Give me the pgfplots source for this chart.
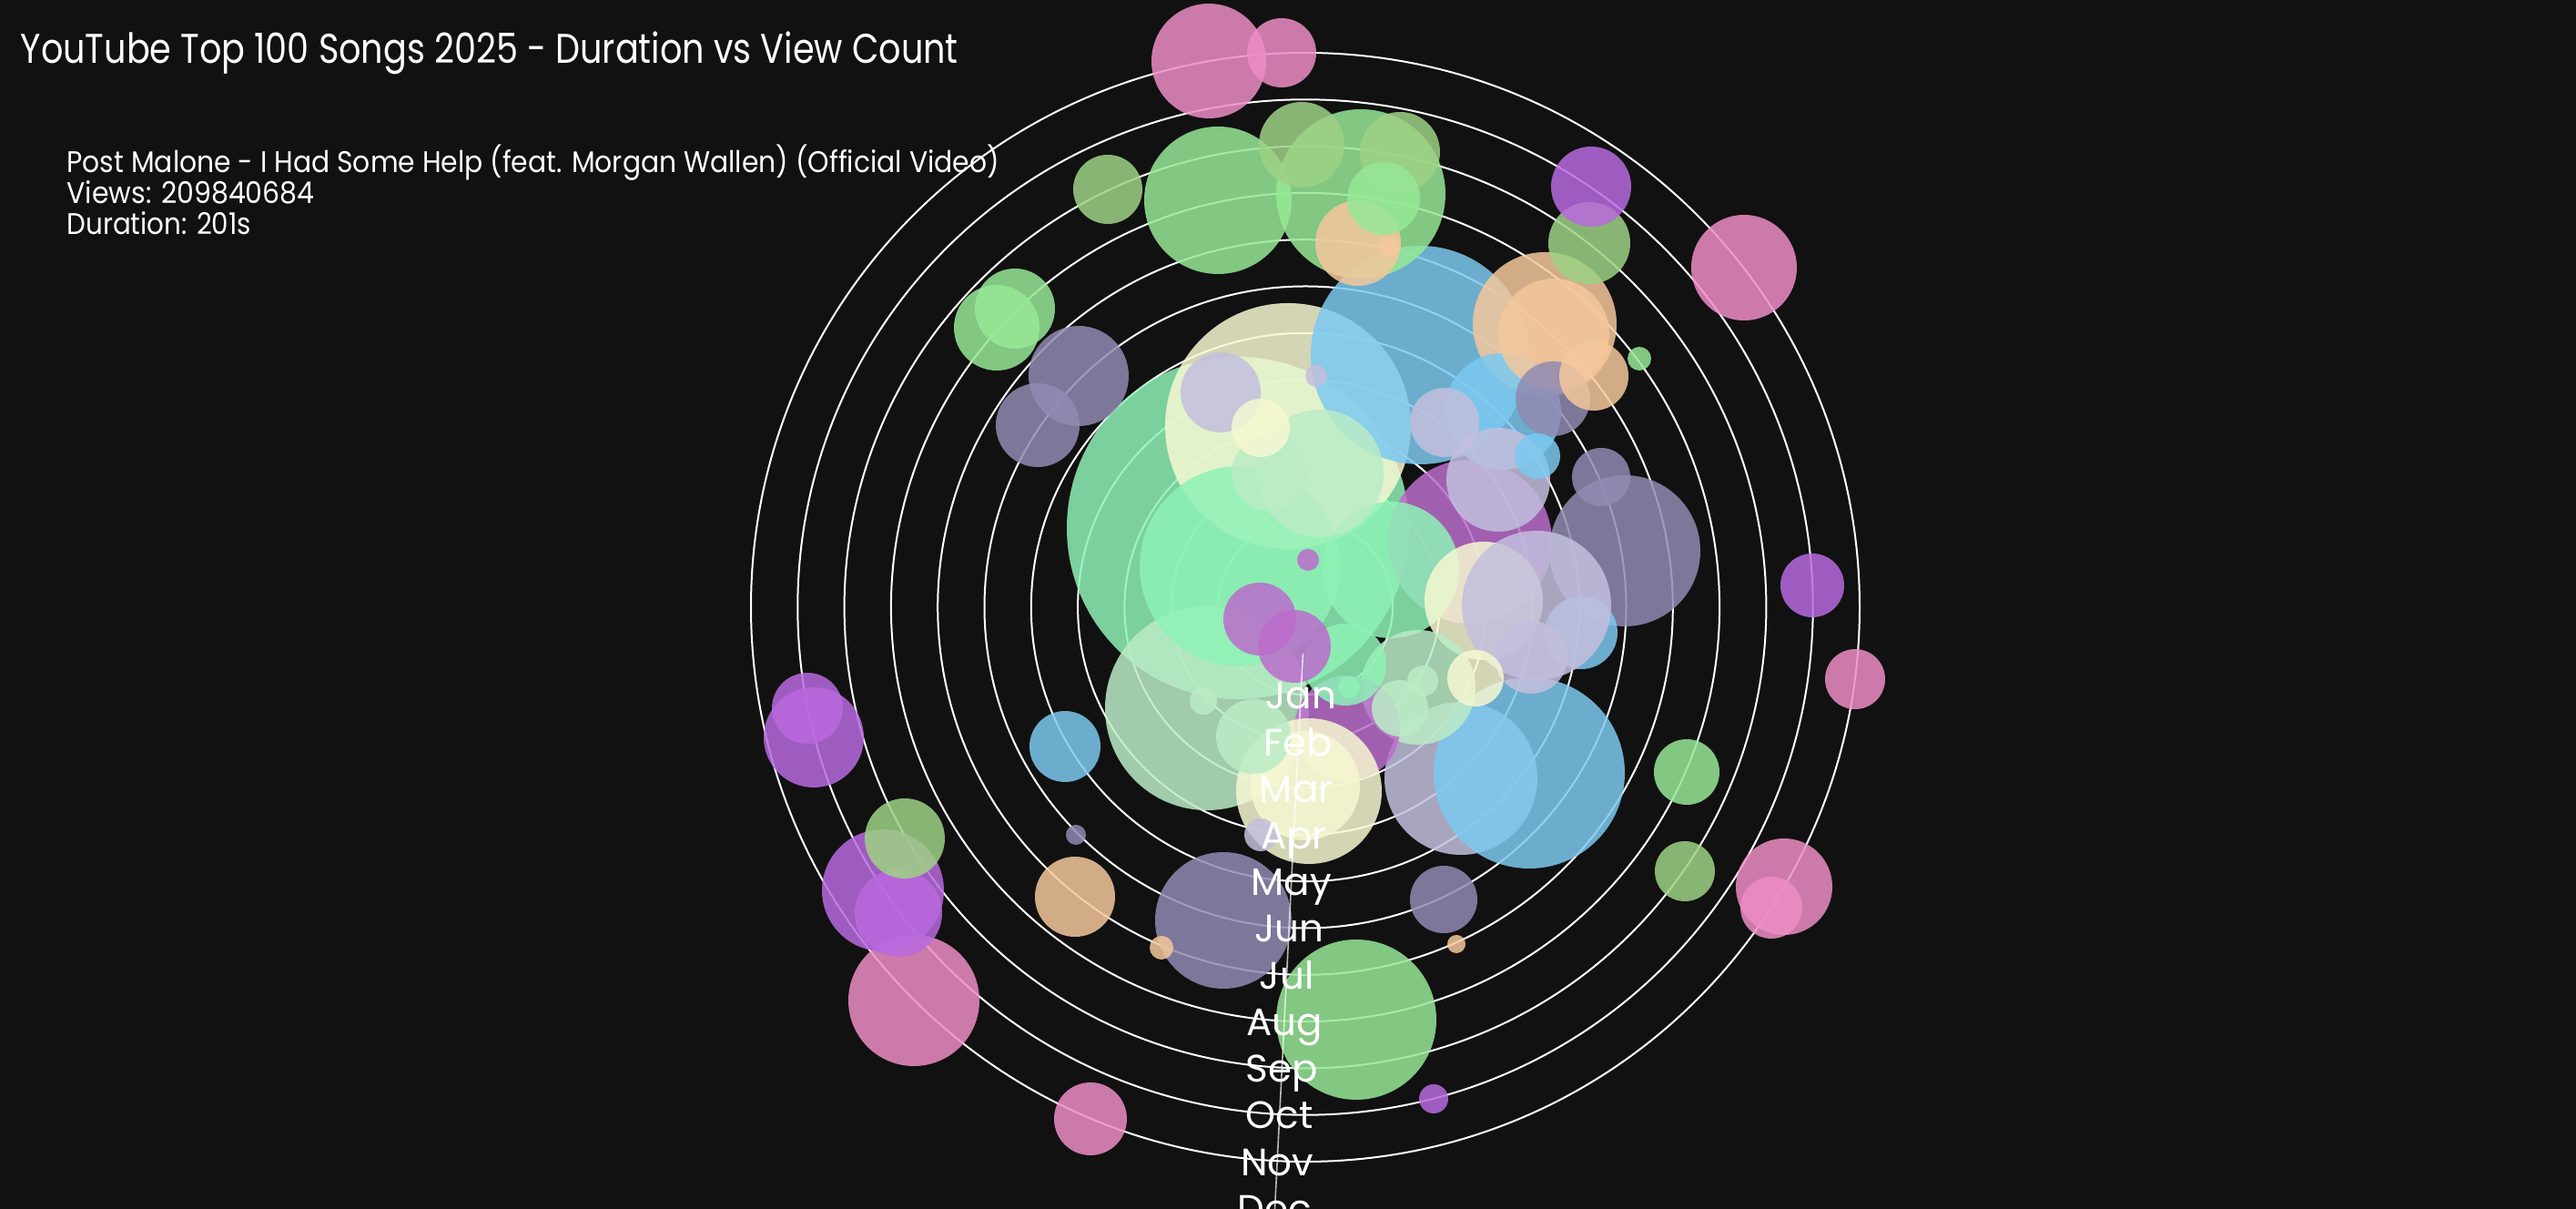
\documentclass[border=0pt]{standalone}
\usepackage{graphicx}
\usepackage{pgfplots}
\pgfplotsset{compat=1.18}
\usepackage{pgfplotstable}
\usepackage{fontspec}
\setmainfont{Poppins}
\definecolor{bg}{RGB}{17,17,17}

% bubbles: x,y = offset of the bubble centre from the polar centre (px of the 2830x1328 picture),
% r = bubble radius (px), c = colour index
\pgfplotstableread{
x y r c
-74 87 188 3
-19 199 135 5
126 277 120 6
-108 -111 112 4
-72 45 110 3
171 -188 84 7
246 -182 105 6
61 454 93 1
181 72 90 10
56 -453 88 1
351 62 83 8
-96 447 81 1
263 311 79 11
-90 -344 75 8
94 41 75 3
-430 -432 72 0
16 147 70 4
-464 -311 67 9
196 7 65 5
217 215 64 6
-106 600 63 0
124 -88 63 4
273 300 61 11
482 373 58 0
46 -133 58 10
4 -202 80 5
0 -196 60 5
212 140 57 7
-249 254 55 8
-540 -143 55 9
526 -307 53 0
-447 -336 48 9
-4 508 47 2
58 400 47 11
-339 307 47 1
-294 200 46 8
312 400 45 2
44 -63 45 3
104 500 44 2
314 462 44 9
-319 328 44 1
-93 236 44 7
-440 -254 44 2
-253 -318 44 11
272 229 41 8
-57 -142 41 4
-40 147 41 4
86 449 40 1
-236 -562 40 0
303 -28 40 6
254 2 82 7
248 -55 40 7
-50 -13 40 10
-12 -43 40 10
-547 -111 39 9
-264 -153 39 6
-26 609 38 0
-217 459 38 2
317 254 38 11
153 203 38 7
152 -321 37 8
419 -181 36 1
557 24 35 9
512 -330 34 0
417 -290 33 2
604 -79 33 0
325 143 32 8
-49 197 32 5
187 -78 31 5
104 -111 31 4
255 166 25 6
-49 -250 18 7
129 -81 17 4
141 -540 16 9
-112 -103 15 4
367 273 13 1
-158 -374 13 11
91 396 12 11
12 254 12 7
48 -88 12 3
3 52 12 10
-252 -250 11 8
166 -370 10 11
}\bubbles

\begin{document}
\begin{tikzpicture}
\path[fill=bg, use as bounding box] (0,0) rectangle (707.5pt,332pt);
\begin{axis}[
  at={(183.5pt,-9.75pt)}, anchor=south west,
  x=0.25pt, y=0.25pt,
  xmin=-700, xmax=700, ymin=-700, ymax=700,
  enlargelimits=false,
  hide axis, clip=false,
  colormap={bub}{rgb255=(237,141,197) rgb255=(150,232,150) rgb255=(158,210,133)
    rgb255=(142,242,182) rgb255=(187,236,198) rgb255=(246,248,210)
    rgb255=(124,201,240) rgb255=(195,191,221) rgb255=(145,138,178)
    rgb255=(185,106,223) rgb255=(187,109,204) rgb255=(244,200,156)},
  point meta min=0, point meta max=11,
]
% month rings (Jan ... Nov)
\pgfplotsinvokeforeach{96,147.3,198.6,249.9,301.2,352.5,403.8,455.1,506.4,557.7,609}{
  \draw[white, line width=0.5pt] (axis cs:0,0) circle[radius=#1*0.25pt];
}
\addplot[scatter, only marks, mark=*, point meta=explicit,
  scatter/use mapped color={draw=mapped color, fill=mapped color, draw opacity=0, fill opacity=0.85},
  visualization depends on={\thisrow{r}/4 \as \rad},
  scatter/@pre marker code/.append style={/tikz/mark size=\rad}]
  table[x=x, y=y, meta=c] {\bubbles};
\end{axis}
% radial axis with month labels (on top of the bubbles)
\draw[white, opacity=0.7, line width=0.4pt] (357.85pt,152.53pt) -- (349.65pt,-9.5pt);
\begin{scope}[every node/.style={text=white, anchor=base, inner sep=0pt, font=\fontsize{10.5}{12}\selectfont}]
\node at (357.28pt,137.28pt) {Jan};
\node at (356.63pt,124.48pt) {Feb};
\node at (356.0pt,111.68pt) {Mar};
\node at (355.35pt,98.85pt) {Apr};
\node at (354.7pt,86.05pt) {May};
\node at (354.05pt,73.25pt) {Jun};
\node at (353.4pt,60.43pt) {Jul};
\node at (352.75pt,47.63pt) {Aug};
\node at (352.1pt,34.83pt) {Sep};
\node at (351.45pt,22.0pt) {Oct};
\node at (350.8pt,9.2pt) {Nov};
\node at (350.15pt,-3.6pt) {Dec};
\end{scope}
\node[anchor=base west, inner sep=0pt, text=white, font=\fontsize{11.4}{13}\selectfont] at (5.5pt,314.5pt)
  {\resizebox{257.5pt}{\height}{YouTube Top 100 Songs 2025 - Duration vs View Count}};
\begin{scope}[every node/.style={anchor=base west, inner sep=0pt, text=white, font=\fontsize{8.2}{10}\selectfont}]
\node at (18.2pt,284.5pt) {\resizebox{256pt}{\height}{Post Malone - I Had Some Help (feat. Morgan Wallen) (Official Video)}};
\node at (18.2pt,276pt) {\resizebox{68pt}{\height}{Views: 209840684}};
\node at (18.2pt,267.5pt) {\resizebox{50.6pt}{\height}{Duration: 201s}};
\end{scope}
\end{tikzpicture}
\end{document}
